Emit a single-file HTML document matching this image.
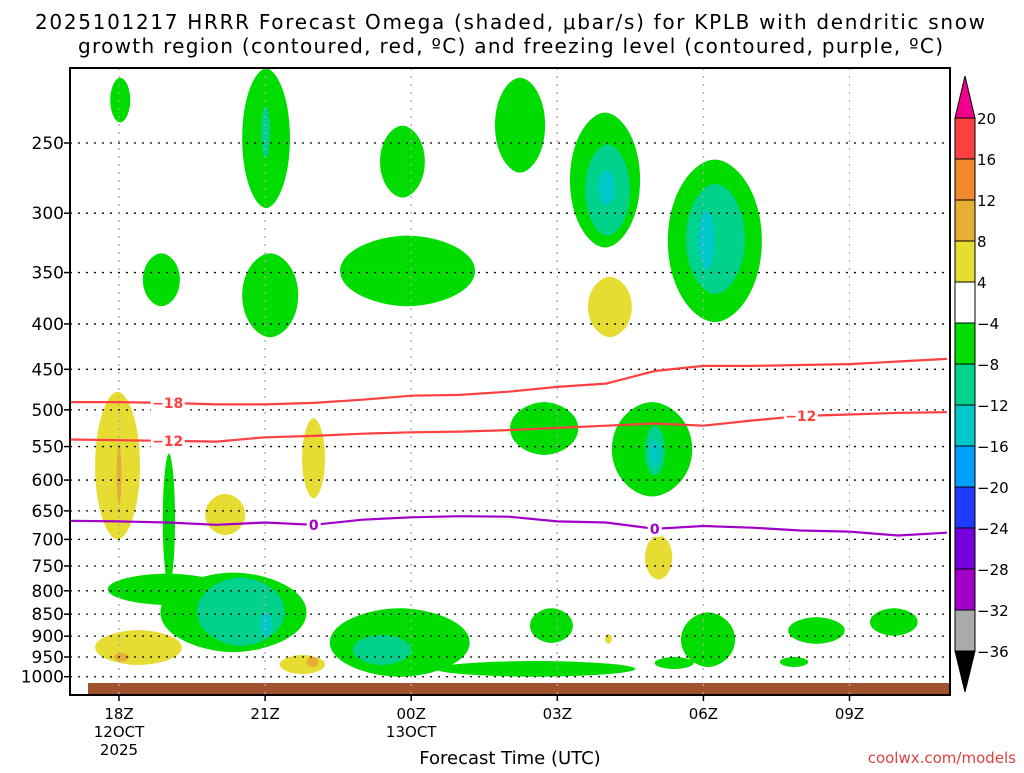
<!DOCTYPE html>
<html><head><meta charset="utf-8"><style>
body{margin:0;background:#fff;width:1024px;height:768px;overflow:hidden;position:relative}
svg text{font-family:"DejaVu Sans","Liberation Sans",sans-serif}
</style></head><body>
<svg id="c" width="1024" height="768" xmlns="http://www.w3.org/2000/svg"></svg>
<script>
// ---- data ----
const pressureTicks=[250,300,350,400,450,500,550,600,650,700,750,800,850,900,950,1000];
const timeTickHours=[0,3,6,9,12,15];
const timeTickLabels=["18Z","21Z","00Z","03Z","06Z","09Z"];
const lineHours=[-1,0,1,2,3,4,5,6,7,8,9,10,11,12,13,14,15,16,17];
const isoMinus18=[490,490,491,493,493,491,487,482,481,477,471,467,452,446,446,445,444,441,438];
const isoMinus12=[540,541,542,543,537,535,532,530,529,527,524,521,518,521,514,508,506,504,503];
const freezingLevel=[667,668,670,674,670,674,665,661,659,660,668,670,681,676,679,684,686,693,688];
// omega regions: hour start, hour end, top pressure, bottom pressure, level
const blobH0=[-0.18,2.53,5.36,7.72,9.26,11.27,0.49,2.53,4.54,8.03,10.12,-0.23,0.9,0.85,4.33,6.5,8.44,11.54,11.0,13.74,15.42,13.57,
  2.92,9.57,11.64,10.8,1.6,4.8,
  9.84,11.89,2.9,10.9,
  -0.49,1.77,3.76,9.63,10.8,-0.49,3.3,9.98,
  -0.05,-0.1,3.85];
const blobH1=[0.23,3.51,6.28,8.75,10.7,13.2,1.25,3.68,7.31,9.43,11.77,2.2,1.15,3.85,7.2,10.6,9.32,12.65,11.8,14.9,16.4,14.15,
  3.1,10.49,12.85,11.21,3.4,6.0,
  10.18,12.23,3.14,11.1,
  0.43,2.59,4.23,10.53,11.36,1.29,4.23,10.12,
  0.05,0.2,4.1];
const blobP0=[211,206,239,211,231,261,333,333,318,490,490,765,560,763,837,960,837,846,950,857,837,950,
  227,251,278,521,773,897,
  268,298,846,540,
  477,622,511,354,692,886,945,895,
  547,940,950];
const blobP1=[237,296,288,270,328,398,382,414,382,562,626,830,790,938,1000,1000,916,975,980,918,899,975,
  260,318,370,593,923,970,
  294,347,900,580,
  700,692,629,414,777,970,993,918,
  640,961,975];
const blobLevel=[1,1,1,1,1,1,1,1,1,1,1,1,1,1,1,1,1,1,1,1,1,1,
  2,2,2,2,2,2,
  3,3,3,3,
  -1,-1,-1,-1,-1,-1,-1,-1,
  -2,-2,-2];
const cbLabels=["20","16","12","8","4","−4","−8","−12","−16","−20","−24","−28","−32","−36"];
const cbColors=["#ff4040","#f08a2c","#e6ae32","#e6dc32","#ffffff","#00dc00","#00d28c","#00c8c8","#00a0ff","#1e3cff","#7800dc","#a000c8","#aaaaaa"];
// ---- axes ----
const X0=70,X1=950,Y0=68,Y1=695;
const xs=h=>119+h*48.7;
const ys=p=>143+385*Math.log(p/250);
const NS="http://www.w3.org/2000/svg";
const svg=document.getElementById('c');
function mk(tag,attrs,parent){const e=document.createElementNS(NS,tag);for(const k in attrs)e.setAttribute(k,attrs[k]);(parent||svg).appendChild(e);return e;}
const levelColor={1:"#00dc00",2:"#00d28c",3:"#00c8c8","-1":"#e6dc32","-2":"#e6ae32"};
const clip=mk('clipPath',{id:'pc'});mk('rect',{x:X0,y:Y0,width:X1-X0,height:Y1-Y0},clip);
const plot=mk('g',{'clip-path':'url(#pc)'});


function lens(cx,cy,rx,ry){const k=0.42,kx=0.62;
  return `M${cx},${cy-ry} C${cx+rx*k},${cy-ry} ${cx+rx},${cy-ry*kx} ${cx+rx},${cy} C${cx+rx},${cy+ry*kx} ${cx+rx*k},${cy+ry} ${cx},${cy+ry} C${cx-rx*k},${cy+ry} ${cx-rx},${cy+ry*kx} ${cx-rx},${cy} C${cx-rx},${cy-ry*kx} ${cx-rx*k},${cy-ry} ${cx},${cy-ry}Z`;}
const order=[1,2,3,-1,-2];
order.forEach(lv=>{
  for(let i=0;i<blobLevel.length;i++){ if(blobLevel[i]!==lv)continue;
    const x0=xs(blobH0[i]),x1=xs(blobH1[i]),y0=ys(blobP0[i]),y1=ys(blobP1[i]);
    const e=mk('path',{d:lens((x0+x1)/2,(y0+y1)/2,(x1-x0)/2,(y1-y0)/2),fill:levelColor[lv]},plot);
    
    
  }
});
const gr=mk('rect',{x:88,y:683,width:862,height:12,fill:"#a0522d"},plot);


pressureTicks.forEach(p=>{const l=mk('line',{x1:X0,x2:X1,y1:ys(p),y2:ys(p),stroke:"#000","stroke-width":1.3,"stroke-dasharray":"2,6"},plot);
  });
timeTickHours.forEach(h=>{const l=mk('line',{x1:xs(h),x2:xs(h),y1:Y0,y2:Y1,stroke:"#aaa","stroke-width":1.3,"stroke-dasharray":"2,6"},plot);
  });
function line(arr,color,name){const d=arr.map((p,i)=>(i?'L':'M')+xs(lineHours[i]).toFixed(1)+','+ys(p).toFixed(1)).join('');
  const l=mk('path',{d:d,fill:'none',stroke:color,'stroke-width':2.2},plot);}
line(isoMinus18,"#ff4040","isotherm-minus18");
line(isoMinus12,"#ff4040","isotherm-minus12");
line(freezingLevel,"#a000c8","freezing-level");
function clabel(h,arr,txt,color){const i=Math.round(h)+1;const p=arr[i]+(arr[i+1]-arr[i])*(h-Math.round(h));
  const y=ys(p);const x=xs(h);
  mk('rect',{x:x-txt.length*5-2,y:y-8,width:txt.length*10+4,height:16,fill:'#fff'},plot);
  const t=mk('text',{x:x,y:y+5,'text-anchor':'middle','font-size':14,'font-weight':'bold',fill:color},plot);t.textContent=txt;
  }
clabel(1.0,isoMinus18,"−18","#ff4040");
clabel(1.0,isoMinus12,"−12","#ff4040");
clabel(14.0,isoMinus12,"−12","#ff4040");
clabel(4.0,freezingLevel,"0","#a000c8");
clabel(11.0,freezingLevel,"0","#a000c8");
const fr=mk('rect',{x:X0,y:Y0,width:X1-X0,height:Y1-Y0,fill:'none',stroke:'#000','stroke-width':2});

pressureTicks.forEach(p=>{mk('line',{x1:X0-6,x2:X0,y1:ys(p),y2:ys(p),stroke:'#000','stroke-width':1.5});
  const t=mk('text',{x:X0-6,y:ys(p)+6,'text-anchor':'end','font-size':17,fill:'#000'});t.textContent=p;
  });
timeTickHours.forEach((h,i)=>{mk('line',{x1:xs(h),x2:xs(h),y1:Y1,y2:Y1+6,stroke:'#000','stroke-width':1.5});
  const t=mk('text',{x:xs(h),y:719,'text-anchor':'middle','font-size':15,fill:'#000'});t.textContent=timeTickLabels[i];
  });
[[0,"12OCT",737],[0,"2025",755],[6,"13OCT",737]].forEach(a=>{const t=mk('text',{x:xs(a[0]),y:a[2],'text-anchor':'middle','font-size':15,fill:'#000'});t.textContent=a[1];
  });
const CBX=955,CBW=20,CBT=118,CBS=41;
const cb=mk('g',{});
mk('polygon',{points:`${CBX},${CBT} ${CBX+CBW},${CBT} ${CBX+CBW/2},76`,fill:'#f0008c',stroke:'#000','stroke-width':1},cb);
cbColors.forEach((c,i)=>mk('rect',{x:CBX,y:CBT+i*CBS,width:CBW,height:CBS,fill:c,stroke:'#000','stroke-width':1},cb));
const cbB=CBT+cbColors.length*CBS;
mk('polygon',{points:`${CBX},${cbB} ${CBX+CBW},${cbB} ${CBX+CBW/2},692`,fill:'#000',stroke:'#000'},cb);
cbLabels.forEach((l,i)=>{const t=mk('text',{x:CBX+CBW+2,y:CBT+i*CBS+6,'font-size':15,fill:'#000'},cb);t.textContent=l;
  });
</script>
<svg style="position:absolute;left:0;top:0" width="1024" height="768" xmlns="http://www.w3.org/2000/svg">
<text x="35" y="29" textLength="950" lengthAdjust="spacing" font-size="20" font-family="DejaVu Sans, Liberation Sans, sans-serif">2025101217 HRRR Forecast Omega (shaded, μbar/s) for KPLB with dendritic snow</text>
<text x="78" y="53" textLength="865" lengthAdjust="spacing" font-size="20" font-family="DejaVu Sans, Liberation Sans, sans-serif">growth region (contoured, red, ºC) and freezing level (contoured, purple, ºC)</text>
<text x="510" y="764" text-anchor="middle" font-size="18" font-family="DejaVu Sans, Liberation Sans, sans-serif">Forecast Time (UTC)</text>
<text x="1016" y="763" text-anchor="end" font-size="15" fill="#e04040" font-family="DejaVu Sans Mono, Liberation Mono, monospace">coolwx.com/models</text>
</svg>
</body></html>
